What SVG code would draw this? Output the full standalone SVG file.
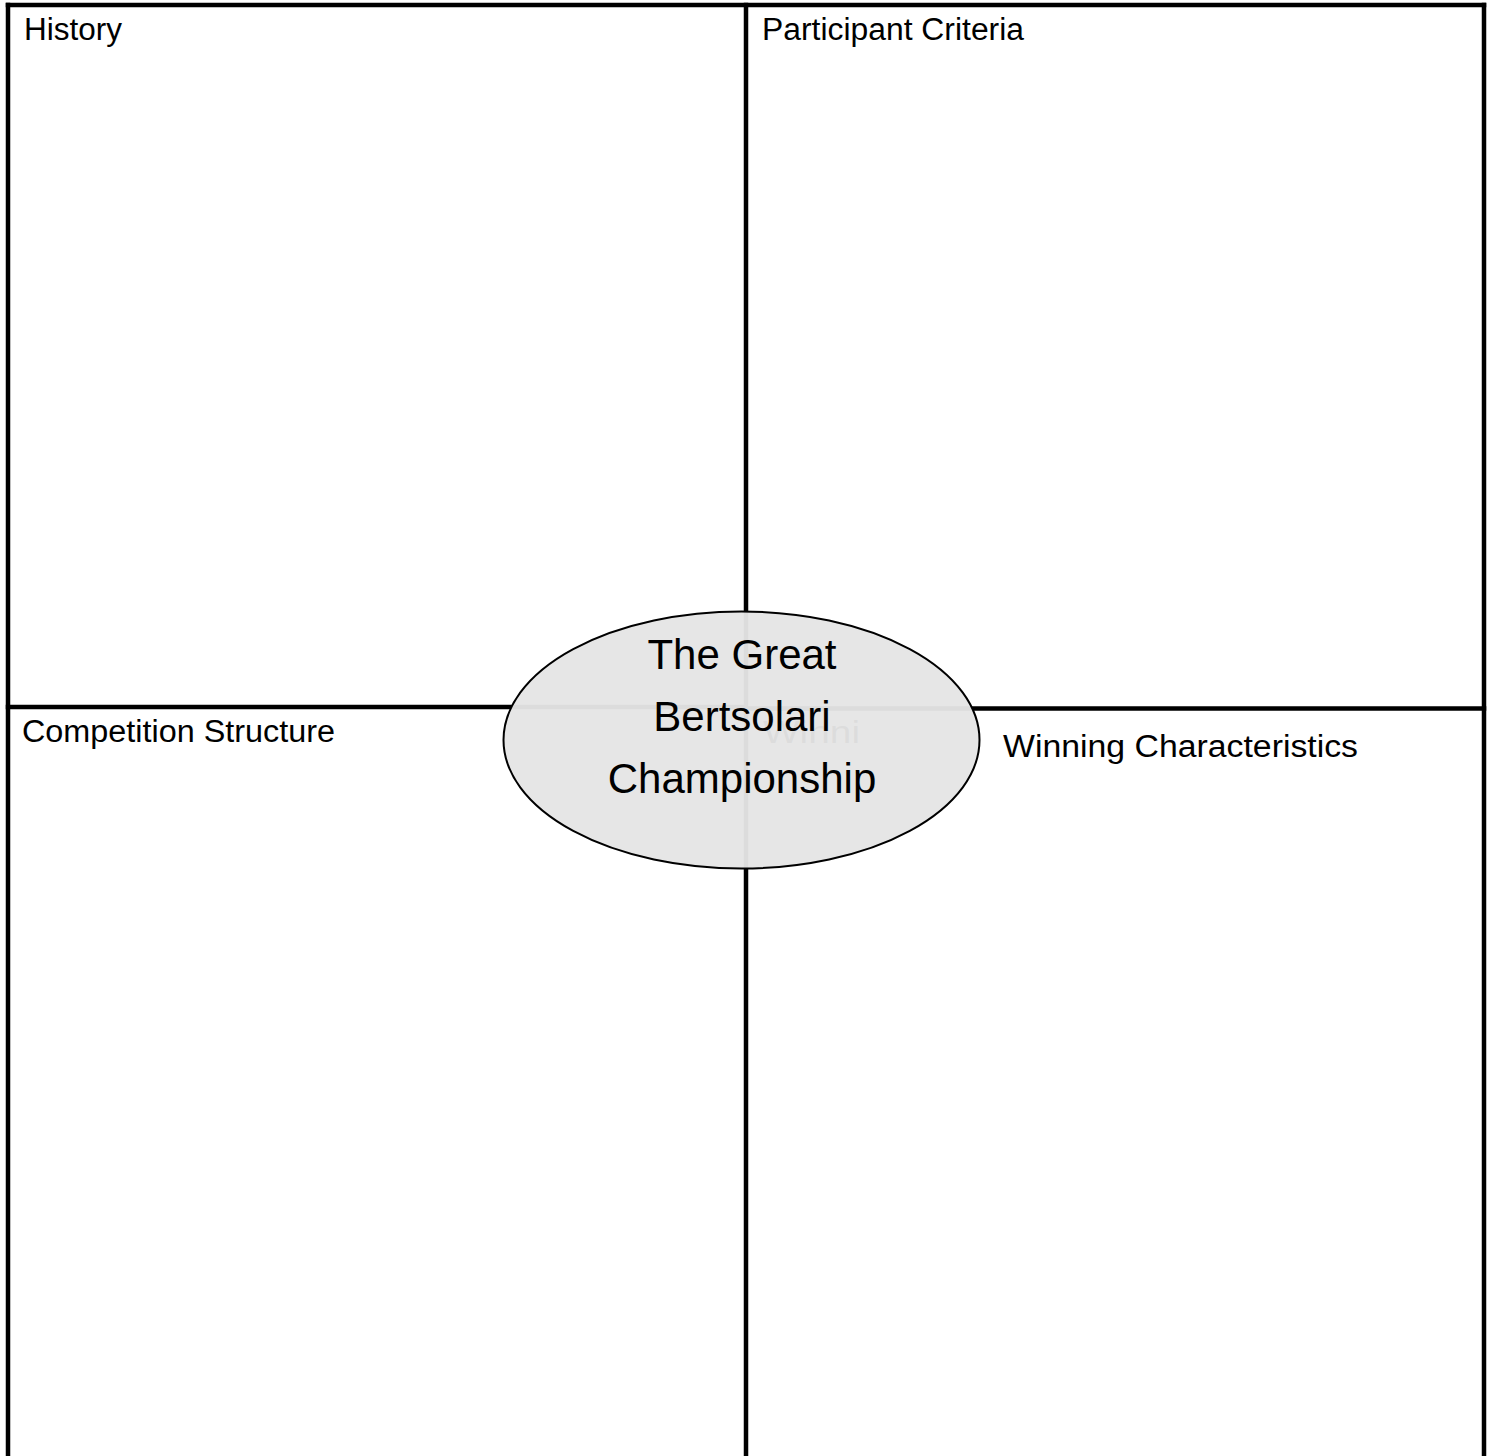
<svg xmlns="http://www.w3.org/2000/svg" width="1491" height="1456" viewBox="0 0 1491 1456">
<style>
.grid{stroke:#000;stroke-width:4.5;fill:none;stroke-linecap:square}
.lbl{font-family:"Liberation Sans",Arial,sans-serif;font-size:31px;fill:#000}
.ctr{font-family:"Liberation Sans",Arial,sans-serif;font-size:42px;fill:#000;text-anchor:middle}
</style>
<rect x="0" y="0" width="1491" height="1456" fill="#fff"/>
<g id="connectors">
<line class="grid" x1="8" y1="5" x2="1484" y2="5"/>
<line class="grid" x1="8" y1="5" x2="8" y2="1460"/>
<line class="grid" x1="1484" y1="5" x2="1484" y2="1460"/>
<line class="grid" x1="746" y1="5" x2="746" y2="1460"/>
<line class="grid" x1="8" y1="707" x2="742" y2="707"/>
<line class="grid" x1="742" y1="708.5" x2="1484" y2="708.5"/>
</g>
<g id="history"><text class="lbl" x="24" y="40" textLength="98" lengthAdjust="spacingAndGlyphs">History</text></g>
<g id="participant-criteria"><text class="lbl" x="762" y="40" textLength="262" lengthAdjust="spacingAndGlyphs">Participant Criteria</text></g>
<g id="competition-structure"><text class="lbl" x="22" y="742" textLength="313" lengthAdjust="spacingAndGlyphs">Competition Structure</text></g>
<g id="winning-characteristics"><text class="lbl" x="1003" y="757" textLength="355" lengthAdjust="spacingAndGlyphs">Winning Characteristics</text></g>
<g id="center">
<text class="lbl" x="763" y="743" textLength="97" lengthAdjust="spacingAndGlyphs">Winni</text>
<ellipse cx="741.5" cy="740" rx="238" ry="128.5" fill="#e5e5e5" fill-opacity="0.96" stroke="#000" stroke-width="2"/>
<text class="ctr" x="742" y="669">The Great</text>
<text class="ctr" x="742" y="731">Bertsolari</text>
<text class="ctr" x="742" y="793">Championship</text>
</g>
</svg>
